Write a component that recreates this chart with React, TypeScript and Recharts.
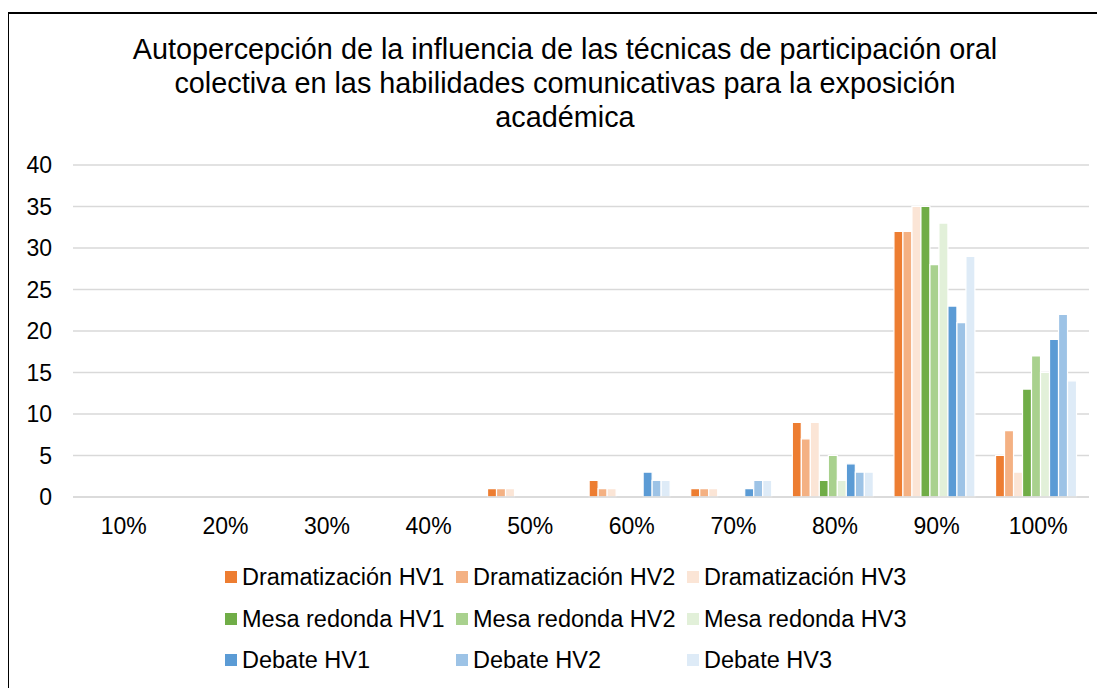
import React from 'react';
import { BarChart, Bar, XAxis, YAxis, CartesianGrid } from 'recharts';

const categories = ['10%', '20%', '30%', '40%', '50%', '60%', '70%', '80%', '90%', '100%'];
const dramatizacionHV1 = [0, 0, 0, 0, 1, 2, 1, 9, 32, 5];
const dramatizacionHV2 = [0, 0, 0, 0, 1, 1, 1, 7, 32, 8];
const dramatizacionHV3 = [0, 0, 0, 0, 1, 1, 1, 9, 35, 3];
const mesaHV1 = [0, 0, 0, 0, 0, 0, 0, 2, 35, 13];
const mesaHV2 = [0, 0, 0, 0, 0, 0, 0, 5, 28, 17];
const mesaHV3 = [0, 0, 0, 0, 0, 0, 0, 2, 33, 15];
const debateHV1 = [0, 0, 0, 0, 0, 3, 1, 4, 23, 19];
const debateHV2 = [0, 0, 0, 0, 0, 2, 2, 3, 21, 22];
const debateHV3 = [0, 0, 0, 0, 0, 2, 2, 3, 29, 14];
const yTicks = [0, 5, 10, 15, 20, 25, 30, 35, 40];
const titleLines = [
  'Autopercepción de la influencia de las técnicas de participación oral',
  'colectiva en las habilidades comunicativas para la exposición',
  'académica',
];

const series = [
  { key: 's1', name: 'Dramatización HV1', values: dramatizacionHV1, color: '#ED7D31' },
  { key: 's2', name: 'Dramatización HV2', values: dramatizacionHV2, color: '#F4B183' },
  { key: 's3', name: 'Dramatización HV3', values: dramatizacionHV3, color: '#FBE5D6' },
  { key: 's4', name: 'Mesa redonda HV1', values: mesaHV1, color: '#70AD47' },
  { key: 's5', name: 'Mesa redonda HV2', values: mesaHV2, color: '#A9D18E' },
  { key: 's6', name: 'Mesa redonda HV3', values: mesaHV3, color: '#E2F0D9' },
  { key: 's7', name: 'Debate HV1', values: debateHV1, color: '#5B9BD5' },
  { key: 's8', name: 'Debate HV2', values: debateHV2, color: '#9DC3E6' },
  { key: 's9', name: 'Debate HV3', values: debateHV3, color: '#DEEBF7' },
];

const data = categories.map((c, i) => {
  const row: Record<string, any> = { cat: c };
  series.forEach((s) => {
    row[s.key] = s.values[i];
  });
  return row;
});

const FONT = '"Liberation Sans", Arial, sans-serif';
const legendCols = [217, 448, 679];
const legendRows = [569, 611, 652];

export default function App() {
  return (
    <div style={{ position: 'relative', width: 1097, height: 680, fontFamily: FONT, overflow: 'hidden' }}>
      <div
        style={{
          position: 'absolute',
          left: -1,
          top: 4,
          width: 1200,
          height: 800,
          borderLeft: '2px solid #000',
          borderTop: '2px solid #000',
        }}
      />
      {titleLines.map((t, i) => (
        <div
          key={i}
          style={{
            position: 'absolute',
            left: 57,
            width: 1000,
            top: 24 + i * 34,
            textAlign: 'center',
            fontSize: 28.8,
            lineHeight: '34px',
            color: '#000',
            whiteSpace: 'nowrap',
          }}
        >
          {t}
        </div>
      ))}
      <div style={{ position: 'absolute', left: 0, top: 0 }}>
        <BarChart
          width={1097}
          height={680}
          data={data}
          margin={{ top: 157, right: 16, bottom: 161, left: 25 }}
          barCategoryGap="8%"
          barGap={0}
        >
          <CartesianGrid vertical={false} stroke="#D9D9D9" strokeWidth={1.3} />
          <XAxis
            dataKey="cat"
            height={30}
            axisLine={{ stroke: '#D9D9D9', strokeWidth: 1.3 }}
            tickLine={false}
            tickSize={0}
            tickMargin={21}
            interval={0}
            tick={{ fill: '#000', fontSize: 23, fontFamily: FONT }}
          />
          <YAxis
            width={40}
            domain={[0, 40]}
            ticks={yTicks}
            axisLine={false}
            tickLine={false}
            tickSize={0}
            tickMargin={21}
            tick={{ fill: '#000', fontSize: 23, fontFamily: FONT }}
          />
          {series.map((s) => (
            <Bar
              key={s.key}
              dataKey={s.key}
              name={s.name}
              fill={s.color}
              stroke="#FFFFFF"
              strokeWidth={1.2}
              isAnimationActive={false}
            />
          ))}
        </BarChart>
      </div>
      {series.map((s, i) => {
        const col = i % 3;
        const row = Math.floor(i / 3);
        return (
          <div
            key={s.key}
            style={{
              position: 'absolute',
              left: legendCols[col],
              top: legendRows[row] - 15,
              height: 30,
              display: 'flex',
              alignItems: 'center',
              fontSize: 23.5,
              color: '#000',
              whiteSpace: 'nowrap',
            }}
          >
            <span style={{ display: 'inline-block', width: 12, height: 12, background: s.color, marginRight: 5 }} />
            <span>{s.name}</span>
          </div>
        );
      })}
    </div>
  );
}
